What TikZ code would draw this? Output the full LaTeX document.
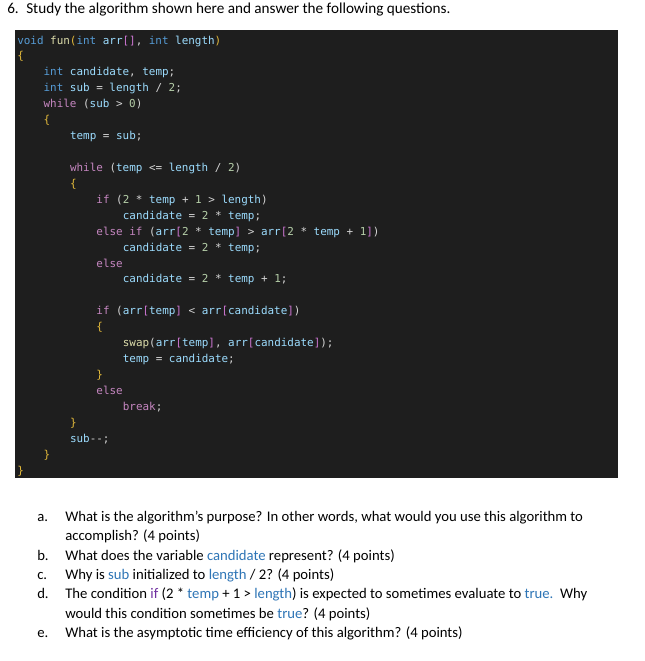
\documentclass[tikz,border=0pt]{standalone}
\usepackage{fontspec}
\setmainfont{Carlito}
\setmonofont{DejaVu Sans Mono}
\usetikzlibrary{positioning}
\definecolor{codebg}{HTML}{1E1E1E}
\definecolor{codefg}{HTML}{D4D4D4}
\definecolor{ckwc}{HTML}{569CD6}
\definecolor{cctlc}{HTML}{C586C0}
\definecolor{cfnc}{HTML}{DCDCAA}
\definecolor{cvarc}{HTML}{9CDCFE}
\definecolor{cnumc}{HTML}{B5CEA8}
\definecolor{cbrc}{HTML}{E2B93B}
\definecolor{csqc}{HTML}{CC76D1}
\definecolor{qblue}{HTML}{2E75B6}
\definecolor{qpurple}{HTML}{7030A0}
\newcommand\ckw[1]{\textcolor{ckwc}{#1}}
\newcommand\cctl[1]{\textcolor{cctlc}{#1}}
\newcommand\cfn[1]{\textcolor{cfnc}{#1}}
\newcommand\cvar[1]{\textcolor{cvarc}{#1}}
\newcommand\cnum[1]{\textcolor{cnumc}{#1}}
\newcommand\cbr[1]{\textcolor{cbrc}{#1}}
\newcommand\csq[1]{\textcolor{csqc}{#1}}
\newcommand\qb[1]{\textcolor{qblue}{#1}}
\newcommand\qp[1]{\textcolor{qpurple}{#1}}
\tikzset{
  codeline/.style={anchor=base west, inner sep=0pt, text=codefg,
    font=\ttfamily\fontsize{8.2}{10}\selectfont},
  headtext/.style={anchor=base west, inner sep=0pt, text=black,
    font=\fontsize{11.4}{13.5}\selectfont},
  bodytext/.style={anchor=base west, inner sep=0pt, text=black,
    font=\fontsize{11.02}{13.5}\selectfont},
}
\begin{document}
\begin{tikzpicture}[x=0.75pt, y=-0.75pt]
\useasboundingbox (0,0) rectangle (645,661);
\fill[white] (0,0) rectangle (645,661);
% header
\node[headtext] (hnum) at (7,13.5) {6.};
\node[headtext] (htext) at (26,13.5) {Study the algorithm shown here and answer the following questions.};
% code box
\fill[codebg] (15,30) rectangle (618,478);
\def\cy#1{44+15.93*#1}
\node[codeline] (l0) at (17,{\cy{0}}) {\ckw{void} \cfn{fun}\cbr{(}\ckw{int} \cvar{arr}\csq{[]}, \ckw{int} \cvar{length}\cbr{)}};
\node[codeline] (l1) at (17,{\cy{1}}) {\cbr{\{}};
\node[codeline] (l2) at (43.4,{\cy{2}}) {\ckw{int} \cvar{candidate}, \cvar{temp};};
\node[codeline] (l3) at (43.4,{\cy{3}}) {\ckw{int} \cvar{sub} = \cvar{length} / \cnum{2};};
\node[codeline] (l4) at (43.4,{\cy{4}}) {\cctl{while} (\cvar{sub} > \cnum{0})};
\node[codeline] (l5) at (43.4,{\cy{5}}) {\cbr{\{}};
\node[codeline] (l6) at (69.8,{\cy{6}}) {\cvar{temp} = \cvar{sub};};
\node[codeline] (l8) at (69.8,{\cy{8}}) {\cctl{while} (\cvar{temp} <= \cvar{length} / \cnum{2})};
\node[codeline] (l9) at (69.8,{\cy{9}}) {\cbr{\{}};
\node[codeline] (l10) at (96.2,{\cy{10}}) {\cctl{if} (\cnum{2} * \cvar{temp} + \cnum{1} > \cvar{length})};
\node[codeline] (l11) at (122.6,{\cy{11}}) {\cvar{candidate} = \cnum{2} * \cvar{temp};};
\node[codeline] (l12) at (96.2,{\cy{12}}) {\cctl{else} \cctl{if} (\cvar{arr}\csq{[}\cnum{2} * \cvar{temp}\csq{]} > \cvar{arr}\csq{[}\cnum{2} * \cvar{temp} + \cnum{1}\csq{]})};
\node[codeline] (l13) at (122.6,{\cy{13}}) {\cvar{candidate} = \cnum{2} * \cvar{temp};};
\node[codeline] (l14) at (96.2,{\cy{14}}) {\cctl{else}};
\node[codeline] (l15) at (122.6,{\cy{15}}) {\cvar{candidate} = \cnum{2} * \cvar{temp} + \cnum{1};};
\node[codeline] (l17) at (96.2,{\cy{17}}) {\cctl{if} (\cvar{arr}\csq{[}\cvar{temp}\csq{]} < \cvar{arr}\csq{[}\cvar{candidate}\csq{]})};
\node[codeline] (l18) at (96.2,{\cy{18}}) {\cbr{\{}};
\node[codeline] (l19) at (122.6,{\cy{19}}) {\cfn{swap}(\cvar{arr}\csq{[}\cvar{temp}\csq{]}, \cvar{arr}\csq{[}\cvar{candidate}\csq{]});};
\node[codeline] (l20) at (122.6,{\cy{20}}) {\cvar{temp} = \cvar{candidate};};
\node[codeline] (l21) at (96.2,{\cy{21}}) {\cbr{\}}};
\node[codeline] (l22) at (96.2,{\cy{22}}) {\cctl{else}};
\node[codeline] (l23) at (122.6,{\cy{23}}) {\cctl{break};};
\node[codeline] (l24) at (69.8,{\cy{24}}) {\cbr{\}}};
\node[codeline] (l25) at (69.8,{\cy{25}}) {\cvar{sub}-{}-;};
\node[codeline] (l26) at (43.4,{\cy{26}}) {\cbr{\}}};
\node[codeline] (l27) at (17,{\cy{27}}) {\cbr{\}}};
% questions
\def\qy#1{521.5+19.3*#1}
\node[bodytext] (qa) at (37,{\qy{0}}) {a.};
\node[bodytext] (qat) at (65,{\qy{0}}) {What is the algorithm’s purpose? In other words, what would you use this algorithm to};
\node[bodytext] (qat2) at (65,{\qy{1}}) {accomplish? (4 points)};
\node[bodytext] (qb) at (37,{\qy{2}}) {b.};
\node[bodytext] (qbt) at (65,{\qy{2}}) {What does the variable \qb{candidate} represent? (4 points)};
\node[bodytext] (qc) at (37,{\qy{3}}) {c.};
\node[bodytext] (qct) at (65,{\qy{3}}) {Why is \qb{sub} initialized to \qb{length} / 2? (4 points)};
\node[bodytext] (qd) at (37,{\qy{4}}) {d.};
\node[bodytext] (qdt) at (65,{\qy{4}}) {The condition \qp{if} (2 * \qb{temp} + 1 > \qb{length}) is expected to sometimes evaluate to \qb{true.}\ \ Why};
\node[bodytext] (qdt2) at (65,{\qy{5}}) {would this condition sometimes be \qb{true}? (4 points)};
\node[bodytext] (qe) at (37,{\qy{6}}) {e.};
\node[bodytext] (qet) at (65,{\qy{6}}) {What is the asymptotic time efficiency of this algorithm? (4 points)};
\end{tikzpicture}
\end{document}
